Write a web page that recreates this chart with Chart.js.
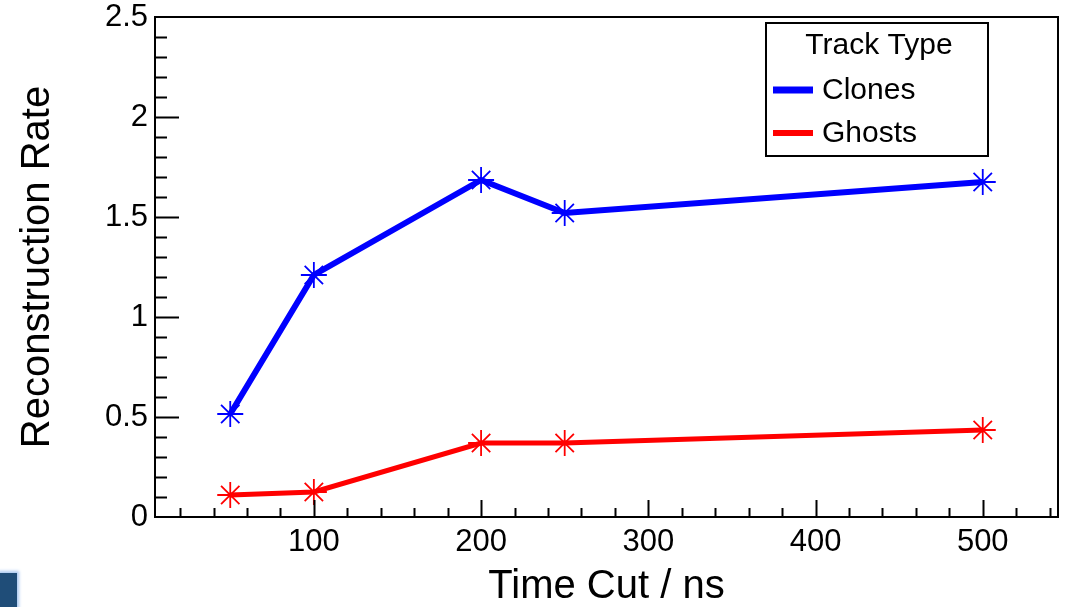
<!DOCTYPE html>
<html>
<head>
<meta charset="utf-8">
<title>Reconstruction Rate vs Time Cut</title>
<script src="https://cdn.jsdelivr.net/npm/chart.js@4.4.1/dist/chart.umd.min.js"></script>
<style>
    body { margin: 0; background: #fff; }
    #wrap { position: relative; width: 1066px; height: 607px; }
    #corner {
        position: absolute; left: 0; top: 573px; width: 17px; height: 34px;
        background: #1f4d78; box-shadow: 0 0 3px 2px #a9c8f0;
    }
</style>
</head>
<body>
<div id="wrap">
    <canvas id="rateChart" width="1066" height="607"></canvas>
    <div id="corner"></div>
</div>
<script>
const timeCuts = [50, 100, 200, 250, 500];
const clonesRate = [0.515, 1.21, 1.685, 1.52, 1.675];
const ghostsRate = [0.11, 0.125, 0.37, 0.37, 0.435];
const xTicksMajor = [100, 200, 300, 400, 500];
const yTicksMajor = [0, 0.5, 1, 1.5, 2, 2.5];

const FONT = "'Liberation Sans', Arial, Helvetica, sans-serif";

// ROOT style frame, inward ticks and legend box
const rootFrame = {
    id: 'rootFrame',
    afterDraw(chart) {
        const ctx = chart.ctx;
        const area = chart.chartArea;
        const xs = chart.scales.x;
        const ys = chart.scales.y;
        ctx.save();
        ctx.strokeStyle = '#000';
        ctx.lineWidth = 2;
        ctx.strokeRect(area.left, area.top, area.right - area.left, area.bottom - area.top);

        ctx.beginPath();
        for (let v = 20; v <= 540; v += 20) {
            const px = Math.round(xs.getPixelForValue(v)) + 0.5;
            const len = v % 100 === 0 ? 17 : 9;
            ctx.moveTo(px, area.bottom);
            ctx.lineTo(px, area.bottom - len);
        }
        for (let i = 1; i < 25; i++) {
            const py = Math.round(ys.getPixelForValue(i / 10)) + 0.5;
            const len = i % 5 === 0 ? 24 : 12;
            ctx.moveTo(area.left, py);
            ctx.lineTo(area.left + len, py);
        }
        ctx.stroke();

        // legend
        const box = { x: 766, y: 23, w: 222, h: 133 };
        ctx.fillStyle = '#fff';
        ctx.fillRect(box.x, box.y, box.w, box.h);
        ctx.strokeRect(box.x, box.y, box.w, box.h);
        ctx.fillStyle = '#000';
        ctx.font = '30px ' + FONT;
        ctx.textBaseline = 'middle';
        ctx.textAlign = 'center';
        ctx.fillText('Track Type', box.x + box.w / 2 + 2, 46);
        ctx.textAlign = 'left';
        const rows = [90, 133];
        chart.data.datasets.forEach((ds, i) => {
            ctx.strokeStyle = ds.borderColor;
            ctx.lineWidth = ds.borderWidth + 1;
            ctx.beginPath();
            ctx.moveTo(773, rows[i]);
            ctx.lineTo(813, rows[i]);
            ctx.stroke();
            ctx.fillStyle = '#000';
            ctx.fillText(ds.label, 822, rows[i] + 1);
        });
        ctx.restore();
    }
};

const ctx = document.getElementById('rateChart').getContext('2d');
const chart = new Chart(ctx, {
    type: 'line',
    data: {
        datasets: [
            {
                label: 'Clones',
                data: timeCuts.map((t, i) => ({ x: t, y: clonesRate[i] })),
                borderColor: '#0000ff',
                backgroundColor: '#0000ff',
                borderWidth: 6,
                pointStyle: 'star',
                pointRadius: 13,
                pointBorderWidth: 1.8,
                pointBorderColor: '#0000ff',
                tension: 0
            },
            {
                label: 'Ghosts',
                data: timeCuts.map((t, i) => ({ x: t, y: ghostsRate[i] })),
                borderColor: '#ff0000',
                backgroundColor: '#ff0000',
                borderWidth: 5,
                pointStyle: 'star',
                pointRadius: 13,
                pointBorderWidth: 1.8,
                pointBorderColor: '#ff0000',
                tension: 0
            }
        ]
    },
    options: {
        responsive: false,
        animation: false,
        events: [],
        layout: {
            autoPadding: false,
            padding: { top: 17, right: 8, left: 0, bottom: 0 }
        },
        plugins: {
            legend: { display: false },
            tooltip: { enabled: false }
        },
        scales: {
            x: {
                type: 'linear',
                min: 5,
                max: 545,
                afterBuildTicks: (scale) => {
                    scale.ticks = xTicksMajor.map(v => ({ value: v }));
                },
                afterFit: (scale) => {
                    scale.height = 90;
                    scale.paddingLeft = 0;
                    scale.paddingRight = 0;
                },
                grid: { display: false, drawTicks: false },
                border: { display: false },
                ticks: {
                    color: '#000',
                    font: { family: FONT, size: 31 },
                    padding: 7,
                    maxRotation: 0,
                    callback: (v) => String(v)
                },
                title: {
                    display: true,
                    text: 'Time Cut / ns',
                    color: '#000',
                    font: { family: FONT, size: 40, lineHeight: 1.0 },
                    padding: { top: 0, bottom: 0 }
                }
            },
            y: {
                type: 'linear',
                min: 0,
                max: 2.5,
                afterBuildTicks: (scale) => {
                    scale.ticks = yTicksMajor.map(v => ({ value: v }));
                },
                afterFit: (scale) => {
                    scale.width = 155;
                    scale.paddingTop = 0;
                    scale.paddingBottom = 0;
                },
                grid: { display: false, drawTicks: false },
                border: { display: false },
                ticks: {
                    color: '#000',
                    font: { family: FONT, size: 31 },
                    padding: 7,
                    callback: (v) => String(v)
                },
                title: {
                    display: true,
                    text: 'Reconstruction Rate',
                    color: '#000',
                    font: { family: FONT, size: 40 },
                    padding: { top: 14, bottom: 0 }
                }
            }
        }
    },
    plugins: [rootFrame]
});
</script>
</body>
</html>
